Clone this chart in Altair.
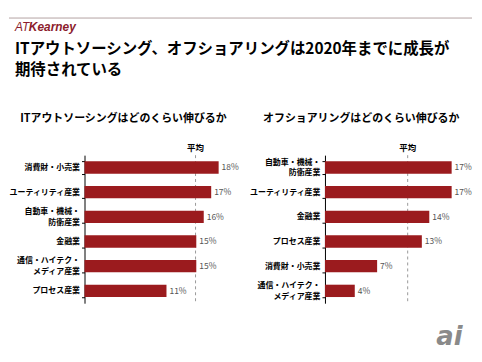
import altair as alt
import pandas as pd

FONT = "Noto Sans CJK JP"
RED = "#9b1b1e"

LOGO_PARTS = ["AT", "Kearney"]
TITLE_LINES = ["ITアウトソーシング、オフショアリングは2020年までに成長が", "期待されている"]

LEFT_TITLE = "ITアウトソーシングはどのくらい伸びるか"
LEFT_CATS = ["消費財・小売業", "ユーティリティ産業", "自動車・機械・\n防衛産業", "金融業",
             "通信・ハイテク・\nメディア産業", "プロセス産業"]
LEFT_VALS = [18, 17, 16, 15, 15, 11]
LEFT_AVG = 14.9

RIGHT_TITLE = "オフショアリングはどのくらい伸びるか"
RIGHT_CATS = ["自動車・機械・\n防衛産業", "ユーティリティ産業", "金融業", "プロセス産業",
              "消費財・小売業", "通信・ハイテク・\nメディア産業"]
RIGHT_VALS = [17, 17, 14, 13, 7, 4]
RIGHT_AVG = 11.1

AVG_LABEL = "平均"
WATERMARK = "ai"

PW, PH = 150, 149
EXT = 76  # y-axis extent (ticks + labels)


def panel(cats, vals, avg, title, watermark=False):
    df = pd.DataFrame({"cat": cats, "val": vals, "label": [f"{v}%" for v in vals]})
    xs = alt.Scale(domain=[0, 20])
    x = alt.X("val:Q", scale=xs, axis=None)
    y = alt.Y("cat:N", sort=cats, title=None,
              scale=alt.Scale(paddingInner=0.5, paddingOuter=0.25),
              axis=alt.Axis(labelExpr="isValid(datum.value) ? split(datum.value, '\\n') : ''",
                            labelOffset={"condition": {"test": "isValid(datum.value) && indexof(datum.value, '\\n') >= 0",
                                                       "value": -5.5},
                                         "value": 0},
                            domainColor="black", tickColor="black", tickSize=3, labelPadding=2,
                            tickBand="extent", minExtent=EXT, maxExtent=EXT, labelFont=FONT,
                            labelFontSize=8, labelFontWeight="bold", labelColor="black",
                            labelLineHeight=11, grid=False))
    avg_df = pd.DataFrame({"avg": [avg], "t": [AVG_LABEL]})
    rule = alt.Chart(avg_df).mark_rule(strokeDash=[3, 3], color="#999999").encode(
        x=alt.X("avg:Q", scale=xs, axis=None))
    bars = alt.Chart(df).mark_bar(color=RED).encode(x=x, y=y)
    texts = alt.Chart(df).mark_text(align="left", dx=3, font=FONT, fontSize=8.5,
                                    color="#555555").encode(x=x, y=y, text="label:N")
    avgtext = alt.Chart(avg_df).mark_text(font=FONT, fontSize=8.5, fontWeight="bold",
                                          color="black", baseline="middle").encode(
        x=alt.X("avg:Q", scale=xs, axis=None), y=alt.value(-7), text="t:N")
    layers = [rule, bars, texts, avgtext]
    if watermark:
        wm = alt.Chart(avg_df).mark_text(font="DejaVu Sans", fontSize=26, fontWeight="bold",
                                         fontStyle="italic", color="#8a8a8a", align="left",
                                         baseline="bottom").encode(
            x=alt.value(112), y=alt.value(196), text=alt.value(WATERMARK))
        layers.append(wm)
    return alt.layer(*layers).properties(
        width=PW, height=PH,
        title=alt.TitleParams(title, font=FONT, fontSize=11, fontWeight="bold",
                              anchor="middle", frame="bounds", offset=20, color="black"))


hdr = pd.DataFrame({"k": [0]})
header = alt.layer(
    alt.Chart(hdr).mark_rule(color="#b3a3a3", strokeWidth=1).encode(
        x=alt.value(-EXT), x2=alt.value(466 - EXT), y=alt.value(9)),
    alt.Chart(hdr).mark_text(font="Liberation Sans", fontSize=12, fontStyle="italic",
                             color="#8c1c2c", align="left", baseline="middle").encode(
        x=alt.value(6 - EXT), y=alt.value(18), text=alt.value(LOGO_PARTS[0])),
    alt.Chart(hdr).mark_text(font="Liberation Sans", fontSize=12, fontStyle="italic",
                             fontWeight="bold", color="#8c1c2c", align="left",
                             baseline="middle").encode(
        x=alt.value(20 - EXT), y=alt.value(18), text=alt.value(LOGO_PARTS[1])),
    alt.Chart(hdr).mark_text(font=FONT, fontSize=15.5, fontWeight="bold", color="black",
                             align="left", baseline="top", lineBreak="\n",
                             lineHeight=21).encode(
        x=alt.value(6 - EXT), y=alt.value(33), text=alt.value("\n".join(TITLE_LINES))),
).properties(width=466 - EXT, height=95)

left = panel(LEFT_CATS, LEFT_VALS, LEFT_AVG, LEFT_TITLE)
right = panel(RIGHT_CATS, RIGHT_VALS, RIGHT_AVG, RIGHT_TITLE, watermark=True)

chart = alt.vconcat(header, alt.hconcat(left, right, spacing=9), spacing=10).properties(
    padding=0, background="white"
).configure_view(stroke=None)

chart.save("out.html", embed_options={"renderer": "svg", "actions": False})
